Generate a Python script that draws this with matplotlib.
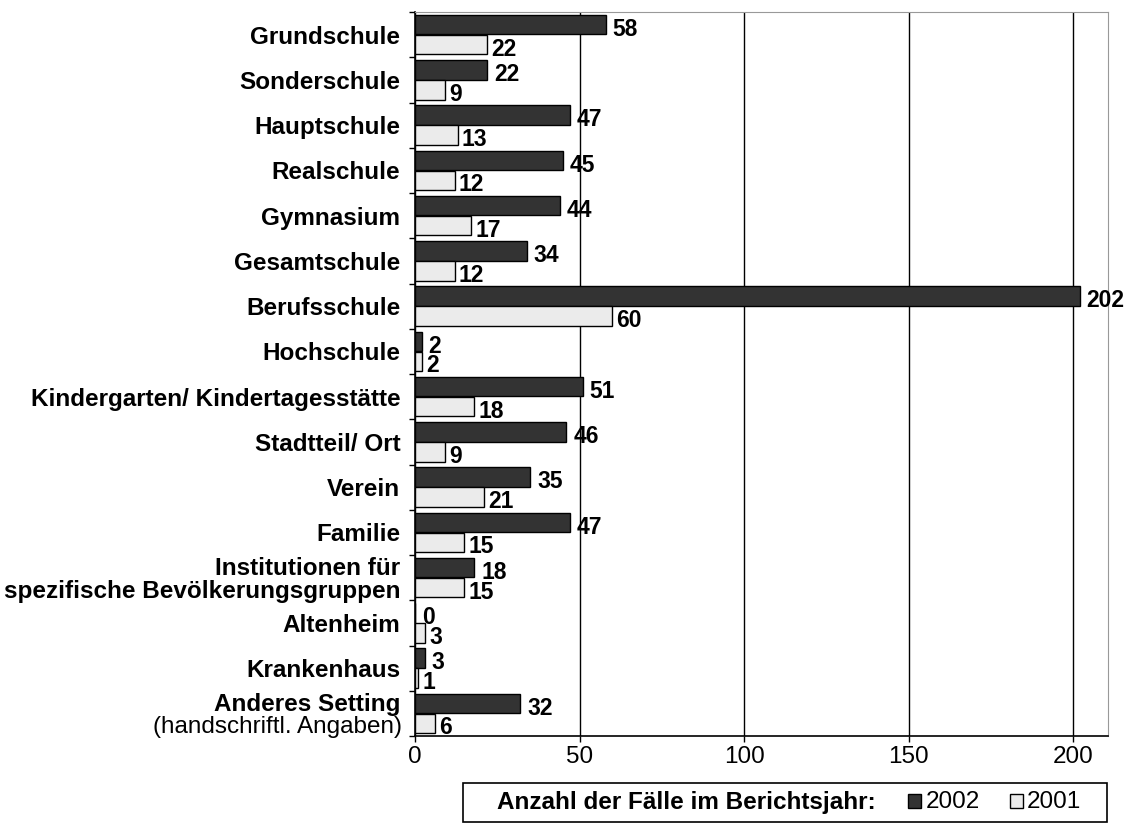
import matplotlib.pyplot as plt
import matplotlib.patches as mpatches
import numpy as np

plt.rcParams['font.family'] = ['Liberation Sans', 'DejaVu Sans']

kategorien = ['Grundschule', 'Sonderschule', 'Hauptschule', 'Realschule',
              'Gymnasium', 'Gesamtschule', 'Berufsschule', 'Hochschule',
              'Kindergarten/ Kindertagesstätte', 'Stadtteil/ Ort', 'Verein',
              'Familie', 'Institutionen für\nspezifische Bevölkerungsgruppen',
              'Altenheim', 'Krankenhaus', 'Anderes Setting']
werte_2002 = [58, 22, 47, 45, 44, 34, 202, 2, 51, 46, 35, 47, 18, 0, 3, 32]
werte_2001 = [22, 9, 13, 12, 17, 12, 60, 2, 18, 9, 21, 15, 15, 3, 1, 6]
xticks = [0, 50, 100, 150, 200]

DUNKEL = '#333333'
HELL = '#ebebeb'
FS = 17.5
FS_WERT = 16.5

fig = plt.figure(figsize=(11.29, 8.24), dpi=100)
ax = fig.add_axes([0.3676, 0.1068, 0.6138, 0.8786])

y = np.arange(len(kategorien))
h = 0.43
ax.barh(y - 0.22, werte_2002, height=h, color=DUNKEL, edgecolor='black', lw=1.0, zorder=3)
ax.barh(y + 0.22, werte_2001, height=h, color=HELL, edgecolor='black', lw=1.0, zorder=3)

for yi, v in zip(y, werte_2002):
    ax.annotate(str(v), (v, yi - 0.22), xytext=(5, -8.0), textcoords='offset points',
                ha='left', va='baseline', fontsize=FS_WERT, fontweight='bold', zorder=4)
for yi, v in zip(y, werte_2001):
    ax.annotate(str(v), (v, yi + 0.22), xytext=(3, -8.0), textcoords='offset points',
                ha='left', va='baseline', fontsize=FS_WERT, fontweight='bold', zorder=4)

ax.set_xlim(0, 210.6)
ax.set_ylim(len(kategorien) - 0.5, -0.5)
ax.set_xticks(xticks)
ax.set_xticklabels([str(t) for t in xticks], fontsize=FS)
ax.xaxis.grid(True, color='black', lw=1.0, zorder=1)

labels = kategorien[:-1] + ['']
ax.set_yticks(y)
ax.set_yticklabels(labels, fontsize=FS, fontweight='bold', linespacing=1.0)
ax.set_yticks(np.arange(len(kategorien) + 1) - 0.5, minor=True)
ax.tick_params(axis='y', which='major', length=0, pad=10.5)
ax.tick_params(axis='y', which='minor', length=4, width=1, direction='out')
ax.tick_params(axis='x', length=4, width=1, pad=3)

# letzte Kategorie mit zweiter Zeile in normaler Schrift
ax.annotate('Anderes Setting', (0, y[-1]), xycoords=('axes fraction', 'data'),
            xytext=(-10.5, 6.3), textcoords='offset points', ha='right', va='center',
            fontsize=FS, fontweight='bold')
ax.annotate('(handschriftl. Angaben)', (0, y[-1]), xycoords=('axes fraction', 'data'),
            xytext=(-9.5, -10), textcoords='offset points', ha='right', va='center',
            fontsize=FS)

for s in ['top', 'right']:
    ax.spines[s].set_color('#999999')
for s in ['left', 'bottom']:
    ax.spines[s].set_color('black')
    ax.spines[s].set_linewidth(1.2)

# Legende als Kasten unten rechts
fig.patches.append(mpatches.Rectangle((463 / 1129, 2 / 824), 644 / 1129, 39 / 824,
                                      transform=fig.transFigure, fill=False,
                                      edgecolor='black', lw=1.2))
fig.text(497 / 1129, 22 / 824, 'Anzahl der Fälle im Berichtsjahr:', fontsize=FS,
         fontweight='bold', ha='left', va='center')
fig.patches.append(mpatches.Rectangle((908 / 1129, 16 / 824), 13 / 1129, 14 / 824,
                                      transform=fig.transFigure, facecolor=DUNKEL,
                                      edgecolor='black', lw=1))
fig.text(926 / 1129, 22 / 824, '2002', fontsize=FS, ha='left', va='center')
fig.patches.append(mpatches.Rectangle((1010 / 1129, 16 / 824), 13 / 1129, 14 / 824,
                                      transform=fig.transFigure, facecolor=HELL,
                                      edgecolor='black', lw=1))
fig.text(1027 / 1129, 22 / 824, '2001', fontsize=FS, ha='left', va='center')

fig.savefig('out.png', dpi=100)
